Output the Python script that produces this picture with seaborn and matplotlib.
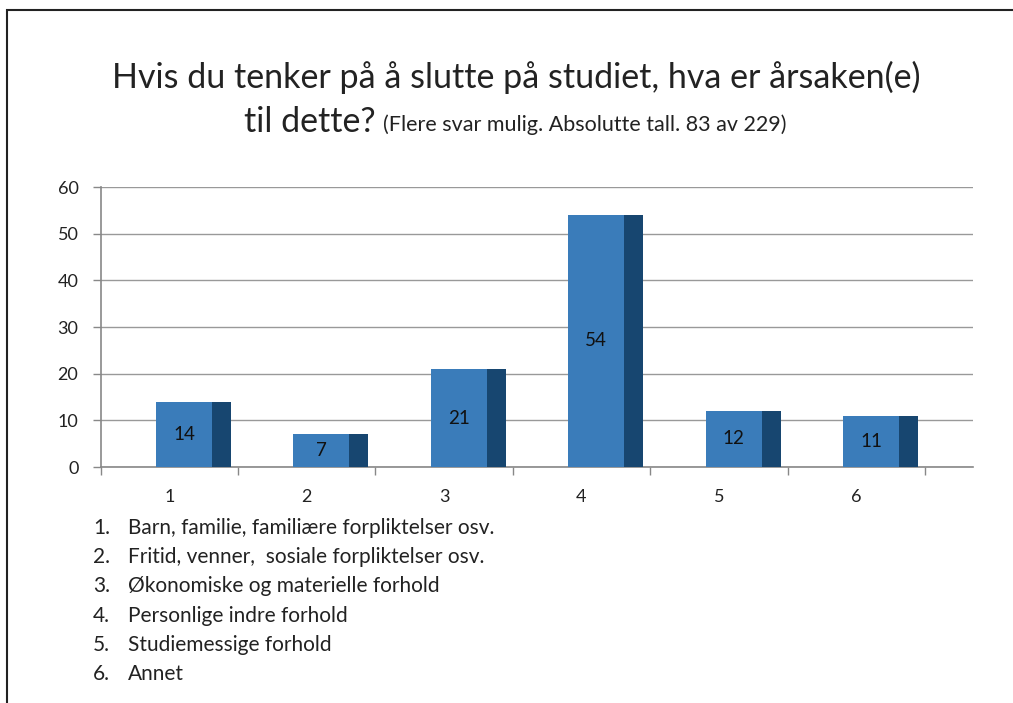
import numpy as np
import pandas as pd
import matplotlib
matplotlib.use("Agg")
import matplotlib.pyplot as plt
import seaborn as sns
from matplotlib.patches import Rectangle
from matplotlib.ticker import FixedLocator, NullFormatter

categories = ["1", "2", "3", "4", "5", "6"]
values = [14, 7, 21, 54, 12, 11]
legend_items = [
    "Barn, familie, familiære forpliktelser osv.",
    "Fritid, venner,  sosiale forpliktelser osv.",
    "Økonomiske og materielle forhold",
    "Personlige indre forhold",
    "Studiemessige forhold",
    "Annet",
]
title_line1 = "Hvis du tenker på å slutte på studiet, hva er årsaken(e)"
title_line2a = "til dette?"
title_line2b = "(Flere svar mulig. Absolutte tall. 83 av 229)"
yticks = [0, 10, 20, 30, 40, 50, 60]

sns.set_theme(style="white")
FONT = ["Lato", "DejaVu Sans"]
plt.rcParams["font.family"] = FONT

W, H = 1013, 703
fig = plt.figure(figsize=(W / 100, H / 100), dpi=100)
fig.patch.set_facecolor("white")

ax_l, ax_r, ax_t, ax_b = 100.6, 973, 187, 467
ax = fig.add_axes([ax_l / W, 1 - ax_b / H, (ax_r - ax_l) / W, (ax_b - ax_t) / H])

df = pd.DataFrame({"cat": categories, "val": values})

front_col = "#3A7CBA"
side_col = "#174670"
front_w = 0.408
front_off = -0.097
side_w = 0.138

sns.barplot(data=df, x="cat", y="val", color=front_col, width=front_w,
            saturation=1, ax=ax, zorder=3, edgecolor="none")
# shift front faces to their 3D position and add side faces
for i, p in enumerate(ax.patches):
    p.set_x(i + front_off)
    p.set_width(front_w)
xs = np.arange(len(values))
ax.bar(xs + front_off + front_w, values, width=side_w, align="edge",
       color=side_col, edgecolor="none", zorder=3)

for i, v in enumerate(values):
    ax.text(i + front_off + front_w / 2, v / 2, str(v), ha="center", va="center",
            fontsize=13.5, color="#111111", zorder=5)

ax.set_ylim(0, 60)
ax.set_xlim(-0.5, (ax_r - ax_l) / 137.4 - 0.5)
ax.set_yticks(yticks)
ax.yaxis.grid(True, color="#999999", linewidth=1.0, zorder=0)
ax.set_axisbelow(True)
ax.set_xlabel("")
ax.set_ylabel("")

for s in ["top", "right"]:
    ax.spines[s].set_visible(False)
for s in ["left", "bottom"]:
    ax.spines[s].set_color("#888888")
    ax.spines[s].set_linewidth(1.2)

ax.tick_params(axis="y", which="major", left=True, length=6, width=1.0,
               color="#888888", labelsize=13, pad=10, labelcolor="#222222")
ax.tick_params(axis="x", which="major", bottom=False, labelsize=13, pad=10,
               labelcolor="#222222")
ax.xaxis.set_minor_locator(FixedLocator([i + 0.5 for i in range(-1, 6)]))
ax.xaxis.set_minor_formatter(NullFormatter())
ax.tick_params(axis="x", which="minor", bottom=True, length=6, width=1.0,
               color="#888888", direction="out")

# Titles
fig.text(516 / W, 1 - 77 / H, title_line1, ha="center", va="center",
         fontsize=24.5, color="#222222", family=FONT)
fig.text(376 / W, 1 - 122 / H, title_line2a, ha="right", va="center",
         fontsize=24.5, color="#222222", family=FONT)
fig.text(383 / W, 1 - 125 / H, title_line2b, ha="left", va="center",
         fontsize=15.5, color="#222222", family=FONT)

# Numbered list below the chart
for k, item in enumerate(legend_items):
    y = 528 + k * 29.2
    fig.text(93 / W, 1 - y / H, f"{k + 1}.", ha="left", va="center",
             fontsize=15, color="#222222", family=FONT)
    fig.text(128 / W, 1 - y / H, item, ha="left", va="center",
             fontsize=15, color="#222222", family=FONT)

# Frame around slide
fig.add_artist(Rectangle((6.5 / W, -0.1), 1.2, 1 - 10 / H + 0.1,
                         transform=fig.transFigure, fill=False,
                         edgecolor="#222222", linewidth=1.5))

fig.savefig("out.png", dpi=100, facecolor="white")
